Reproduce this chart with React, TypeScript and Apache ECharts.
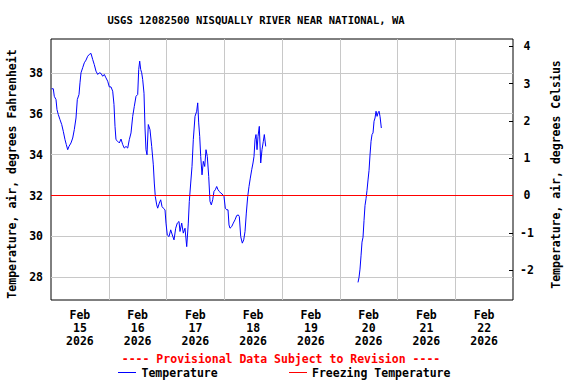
import React, { useEffect, useRef } from "react";
import * as echarts from "echarts";

const title = "USGS 12082500 NISQUALLY RIVER NEAR NATIONAL, WA";
const leftAxisName = "Temperature, air, degrees Fahrenheit";
const rightAxisName = "Temperature, air, degrees Celsius";
const dayLabels = ["Feb\n15\n2026", "Feb\n16\n2026", "Feb\n17\n2026", "Feb\n18\n2026", "Feb\n19\n2026", "Feb\n20\n2026", "Feb\n21\n2026", "Feb\n22\n2026"];
const provisionalText = "---- Provisional Data Subject to Revision ----";
const legendNames = ["Temperature", "Freezing Temperature"];

// hours since Feb 15 2026 00:00
const hoursA = [0.25, 0.96, 1.37, 2.08, 2.49, 3.03, 3.74, 4.45, 5.11, 5.82, 6.36, 6.94, 7.48, 8.31, 9.02, 9.68, 10.39, 10.93, 11.64, 12.05, 12.47, 13.17, 13.84, 14.55, 15.25, 15.92, 16.62, 17.33, 17.99, 18.7, 19.41, 20.07, 20.78, 21.49, 22.15, 22.86, 23.56, 24.23, 24.94, 25.64, 26.18, 26.6, 27.01, 27.72, 28.39, 29.09, 29.8, 30.46, 31.17, 31.88, 32.54, 33.25, 33.95, 34.62, 35.33, 36.03, 36.45, 36.86, 37.28, 37.69, 38.11, 38.65, 39.07, 39.48, 39.9, 40.44, 41.14, 41.85, 42.52, 42.93, 43.35, 43.93, 44.34, 45.01, 45.59, 46.13, 46.67, 47.38, 47.79, 48.33, 49.04, 49.75, 50.41, 51.12, 51.82, 52.49, 53.2, 53.61, 54.32, 54.98, 55.69, 56.4, 57.06, 57.48, 58.06, 58.6, 59.14, 59.85, 60.55, 60.97, 61.38, 61.8, 62.22, 62.76, 63.3, 63.88, 64.42, 64.96, 65.54, 66.08, 66.62, 67.2, 67.74, 68.28, 68.86, 69.41, 69.95, 70.53, 71.07, 71.9, 72.44, 73.02, 73.56, 73.98, 74.39, 75.1, 75.76, 76.47, 77.18, 77.84, 78.26, 78.84, 79.5, 80.09, 80.63, 81.17, 81.75, 82.29, 82.83, 83.41, 83.95, 84.37, 84.78, 85.2, 85.62, 86.03, 86.57, 87.15, 87.69, 88.24, 88.65, 89.23];
const tempFA = [37.22, 37.22, 36.85, 36.69, 36.2, 35.96, 35.71, 35.47, 35.14, 34.73, 34.49, 34.24, 34.4, 34.57, 34.81, 35.22, 35.79, 36.69, 36.94, 37.51, 38.0, 38.25, 38.49, 38.62, 38.81, 38.9, 38.95, 38.65, 38.4, 38.08, 37.92, 38.0, 37.97, 37.83, 37.92, 37.75, 37.59, 37.31, 37.31, 37.1, 36.45, 35.38, 34.73, 34.65, 34.57, 34.76, 34.49, 34.32, 34.4, 34.32, 34.73, 35.06, 35.87, 36.36, 36.85, 36.94, 38.16, 38.57, 38.16, 38.0, 37.67, 37.0, 35.3, 34.24, 33.99, 35.47, 35.22, 34.4, 33.5, 32.61, 31.95, 31.54, 31.38, 31.63, 31.79, 31.46, 31.38, 31.3, 30.65, 30.07, 29.99, 30.32, 30.07, 29.83, 30.4, 30.65, 30.73, 30.24, 30.65, 30.16, 30.4, 29.5, 30.65, 31.71, 32.61, 33.42, 34.73, 35.87, 36.12, 36.53, 35.55, 34.89, 33.91, 33.01, 33.67, 33.42, 34.24, 33.91, 32.93, 31.71, 31.54, 31.79, 32.2, 32.28, 32.44, 32.28, 32.2, 32.12, 32.08, 31.95, 31.38, 31.3, 31.3, 30.56, 30.4, 30.48, 30.65, 30.81, 31.02, 31.05, 30.97, 29.99, 29.67, 29.83, 30.24, 31.14, 31.95, 32.44, 32.85, 33.26, 33.59, 33.91, 34.73, 34.98, 34.24, 34.89, 35.38, 33.59, 34.24, 34.65, 34.98, 34.4];
const hoursB = [127.59, 128.0, 128.42, 128.84, 129.25, 129.67, 130.09, 130.5, 130.92, 131.33, 131.75, 132.17, 132.58, 133.0, 133.41, 133.83, 134.25, 134.66, 135.08, 135.5, 135.91, 136.33, 136.74, 137.28];
const tempFB = [27.75, 27.99, 28.4, 29.05, 29.72, 29.96, 30.78, 31.51, 31.84, 32.25, 32.76, 33.23, 33.99, 34.65, 34.98, 35.06, 35.63, 35.79, 36.12, 35.87, 36.04, 36.12, 35.87, 35.3];
const freezingF = 32;
const xRangeHours = [0, 192];
const fRange = [26.89, 39.653];
const cRange = [-2.8, 4.193];

const FONT = "'DejaVu Sans Mono', monospace";

export default function App() {
  const ref = useRef<HTMLDivElement>(null);
  useEffect(() => {
    if (!ref.current) return;
    const chart = echarts.init(ref.current, undefined, { renderer: "svg" });
    const txt = { fontFamily: FONT, fontWeight: "bold" as const, fontSize: 11.5, color: "#000" };
    chart.setOption({
      animation: false,
      backgroundColor: "#fff",
      color: ["#0000ff", "#0000ff", "#ff0000"],
      grid: { left: 51, right: 63, top: 39, bottom: 84, show: true, borderColor: "#000", borderWidth: 1, backgroundColor: "transparent" },
      xAxis: [
        {
          type: "value", min: xRangeHours[0], max: xRangeHours[1], interval: 24,
          axisLine: { show: false, onZero: false }, axisTick: { show: false }, axisLabel: { show: false },
          splitLine: { show: true, showMinLine: false, showMaxLine: false, lineStyle: { color: "#c8c8c8", width: 1 } },
        },
        {
          type: "category", data: dayLabels, position: "bottom", boundaryGap: true,
          axisLine: { show: false, onZero: false }, axisTick: { show: false }, splitLine: { show: false },
          axisLabel: { ...txt, lineHeight: 13, margin: 8, interval: 0 },
        },
      ],
      yAxis: [
        {
          type: "value", min: fRange[0], max: fRange[1], splitNumber: 6, position: "left",
          axisLine: { show: false, onZero: false }, axisTick: { show: false },
          axisLabel: { ...txt, margin: 8, showMinLabel: false, showMaxLabel: false },
          splitLine: { show: true, showMinLine: false, showMaxLine: false, lineStyle: { color: "#c8c8c8", width: 1 } },
        },
        {
          type: "value", min: cRange[0], max: cRange[1], splitNumber: 6, position: "right",
          axisLine: { show: false, onZero: false },
          axisTick: { show: true, inside: true, length: 4, lineStyle: { color: "#000" } },
          axisLabel: { ...txt, margin: 14, align: "center", showMinLabel: false, showMaxLabel: false },
          splitLine: { show: false },
        },
      ],
      series: [
        {
          name: legendNames[0], type: "line", xAxisIndex: 0, yAxisIndex: 0, symbol: "none",
          data: hoursA.map((h, i) => [h, tempFA[i]]),
          color: "#0000ff",
          lineStyle: { color: "#0000ff", width: 1 }, z: 4,
        },
        {
          name: legendNames[0], type: "line", xAxisIndex: 0, yAxisIndex: 0, symbol: "none",
          data: hoursB.map((h, i) => [h, tempFB[i]]),
          color: "#0000ff",
          lineStyle: { color: "#0000ff", width: 1 }, z: 4,
        },
        {
          name: legendNames[1], type: "line", xAxisIndex: 0, yAxisIndex: 0, symbol: "none",
          data: [[xRangeHours[0], freezingF], [xRangeHours[1], freezingF]],
          color: "#ff0000",
          lineStyle: { color: "#ff0000", width: 1, opacity: 1 }, z: 6,
        },
      ],
      graphic: [
        { type: "text", x: 256, y: 20, style: { text: title, fontFamily: FONT, fontWeight: "bold", fontSize: 10.5, fill: "#000", align: "center", verticalAlign: "middle" } },
        { type: "text", x: 12, y: 174, rotation: Math.PI / 2, style: { text: leftAxisName, fontFamily: FONT, fontWeight: "bold", fontSize: 11.5, fill: "#000", align: "center", verticalAlign: "middle" } },
        { type: "text", x: 556, y: 174.5, rotation: Math.PI / 2, style: { text: rightAxisName, fontFamily: FONT, fontWeight: "bold", fontSize: 11.5, fill: "#000", align: "center", verticalAlign: "middle" } },
        { type: "text", x: 281, y: 359, style: { text: provisionalText, fontFamily: FONT, fontWeight: "bold", fontSize: 11.5, fill: "#ff0000", align: "center", verticalAlign: "middle" } },
        { type: "line", shape: { x1: 118, y1: 372.5, x2: 136, y2: 372.5 }, style: { stroke: "#0000ff", lineWidth: 1 } },
        { type: "text", x: 141.5, y: 373, style: { text: legendNames[0], fontFamily: FONT, fontWeight: "bold", fontSize: 11.5, fill: "#000", align: "left", verticalAlign: "middle" } },
        { type: "line", shape: { x1: 289, y1: 372.5, x2: 307, y2: 372.5 }, style: { stroke: "#ff0000", lineWidth: 1 } },
        { type: "text", x: 312, y: 373, style: { text: legendNames[1], fontFamily: FONT, fontWeight: "bold", fontSize: 11.5, fill: "#000", align: "left", verticalAlign: "middle" } },
      ],
    });
    return () => chart.dispose();
  }, []);
  return <div ref={ref} style={{ position: "fixed", left: 0, top: 0, width: 576, height: 384 }} />;
}
